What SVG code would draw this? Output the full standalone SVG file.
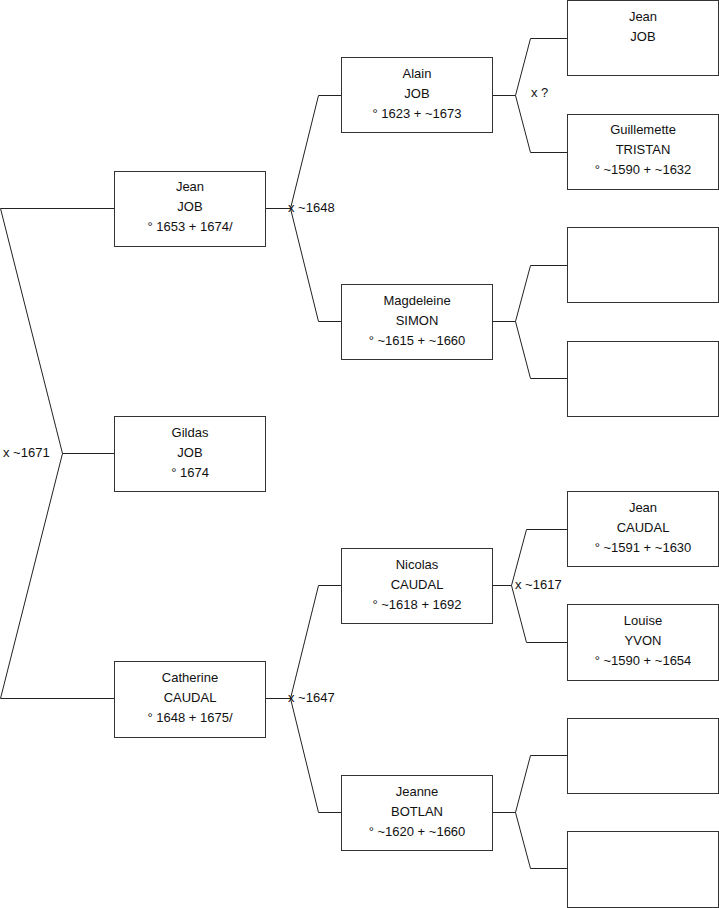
<svg xmlns="http://www.w3.org/2000/svg" width="719" height="908" viewBox="0 0 719 908">
<style>
.box{fill:#fff;stroke:#333;stroke-width:1}
.ln{fill:none;stroke:#222;stroke-width:1}
text{font-family:"Liberation Sans",Arial,sans-serif;font-size:13px;fill:#111}
.c{text-anchor:middle}
</style>
<rect width="719" height="908" fill="#fff"/>
<g id="connectors">
<path class="ln" d="M114.5,208.5H0.5L62.5,453.5L0.5,698.5H114.5M62.5,453.5H114.5"/>
<path class="ln" d="M265.5,208.5H290.5M341.5,95.5H318.5L290.5,208.5L318.5,321.5H341.5"/>
<path class="ln" d="M265.5,698.5H290.5M341.5,585.5H318.5L290.5,698.5L318.5,812.5H341.5"/>
<path class="ln" d="M492.5,95.5H515.5M567.5,38.5H530.5L515.5,95.5L530.5,152.5H567.5"/>
<path class="ln" d="M492.5,321.5H515.5M567.5,265.5H530.5L515.5,321.5L530.5,378.5H567.5"/>
<path class="ln" d="M492.5,585.5H511.5M567.5,529.5H526.5L511.5,585.5L526.5,642.5H567.5"/>
<path class="ln" d="M492.5,812.5H515.5M567.5,755.5H530.5L515.5,812.5L530.5,868.5H567.5"/>
<text x="3" y="457">x ~1671</text>
<text x="288" y="212">x ~1648</text>
<text x="288" y="702">x ~1647</text>
<text x="531" y="97">x ?</text>
<text x="515" y="589">x ~1617</text>
</g>
<g id="n_jean_job">
<rect class="box" x="114.5" y="171.5" width="151" height="75"/>
<text class="c" x="190" y="191">Jean</text><text class="c" x="190" y="211">JOB</text><text class="c" x="190" y="231">° 1653 + 1674/</text>
</g>
<g id="n_gildas">
<rect class="box" x="114.5" y="416.5" width="151" height="75"/>
<text class="c" x="190" y="437">Gildas</text><text class="c" x="190" y="457">JOB</text><text class="c" x="190" y="477">° 1674</text>
</g>
<g id="n_catherine">
<rect class="box" x="114.5" y="661.5" width="151" height="76"/>
<text class="c" x="190" y="682">Catherine</text><text class="c" x="190" y="702">CAUDAL</text><text class="c" x="190" y="722">° 1648 + 1675/</text>
</g>
<g id="n_alain">
<rect class="box" x="341.5" y="57.5" width="151" height="75"/>
<text class="c" x="417" y="78">Alain</text><text class="c" x="417" y="98">JOB</text><text class="c" x="417" y="118">° 1623 + ~1673</text>
</g>
<g id="n_magdeleine">
<rect class="box" x="341.5" y="284.5" width="151" height="75"/>
<text class="c" x="417" y="305">Magdeleine</text><text class="c" x="417" y="325">SIMON</text><text class="c" x="417" y="345">° ~1615 + ~1660</text>
</g>
<g id="n_nicolas">
<rect class="box" x="341.5" y="548.5" width="151" height="75"/>
<text class="c" x="417" y="569">Nicolas</text><text class="c" x="417" y="589">CAUDAL</text><text class="c" x="417" y="609">° ~1618 + 1692</text>
</g>
<g id="n_jeanne">
<rect class="box" x="341.5" y="775.5" width="151" height="75"/>
<text class="c" x="417" y="796">Jeanne</text><text class="c" x="417" y="816">BOTLAN</text><text class="c" x="417" y="836">° ~1620 + ~1660</text>
</g>
<g id="n_jean_job2">
<rect class="box" x="567.5" y="0.5" width="151" height="75"/>
<text class="c" x="643" y="21">Jean</text><text class="c" x="643" y="41">JOB</text>
</g>
<g id="n_guillemette">
<rect class="box" x="567.5" y="114.5" width="151" height="75"/>
<text class="c" x="643" y="134">Guillemette</text><text class="c" x="643" y="154">TRISTAN</text><text class="c" x="643" y="174">° ~1590 + ~1632</text>
</g>
<g id="n_empty1"><rect class="box" x="567.5" y="227.5" width="151" height="75"/></g>
<g id="n_empty2"><rect class="box" x="567.5" y="341.5" width="151" height="75"/></g>
<g id="n_jean_caudal">
<rect class="box" x="567.5" y="491.5" width="151" height="75"/>
<text class="c" x="643" y="512">Jean</text><text class="c" x="643" y="532">CAUDAL</text><text class="c" x="643" y="552">° ~1591 + ~1630</text>
</g>
<g id="n_louise">
<rect class="box" x="567.5" y="604.5" width="151" height="76"/>
<text class="c" x="643" y="625">Louise</text><text class="c" x="643" y="645">YVON</text><text class="c" x="643" y="665">° ~1590 + ~1654</text>
</g>
<g id="n_empty3"><rect class="box" x="567.5" y="718.5" width="151" height="75"/></g>
<g id="n_empty4"><rect class="box" x="567.5" y="831.5" width="151" height="76"/></g>
</svg>
